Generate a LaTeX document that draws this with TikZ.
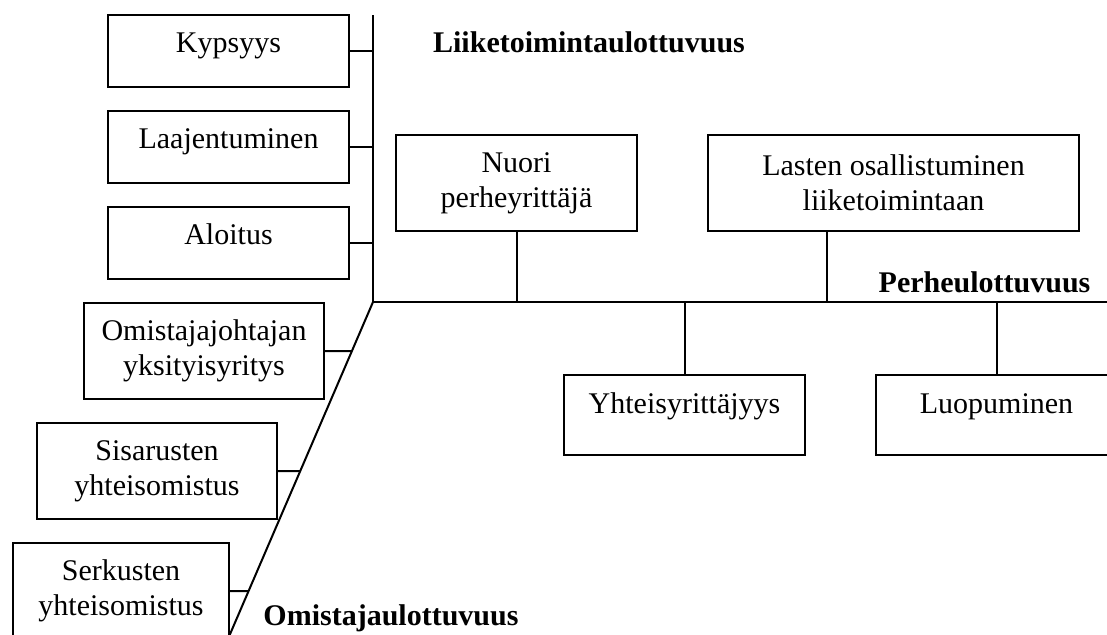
\documentclass[tikz,border=0pt]{standalone}
\usepackage{fontspec}
\setmainfont{Liberation Serif}
\usetikzlibrary{calc}
\begin{document}
\begin{tikzpicture}[x=0.5pt,y=-0.5pt,
  every node/.style={font=\fontsize{15}{17.5}\selectfont},
  ln/.style={line width=1pt},
  box/.style={draw, line width=1pt, inner sep=0pt, align=center,
    minimum width=120.5pt, minimum height=48pt},
  onebox/.style={box, minimum height=36pt, text height=8pt, text depth=7pt},
  lowbox/.style={box, minimum height=40pt, text height=8pt, text depth=10pt},
  lbl/.style={font=\fontsize{15}{17.5}\selectfont\bfseries, inner sep=0pt, anchor=base}
]
\useasboundingbox (0,0) rectangle (1107,634);
\fill[white] (0,0) rectangle (1107,634);
\clip (0,0) rectangle (1107,634);

% spines
\coordinate (top) at (373,15);
\coordinate (o) at (373,302);
\coordinate (rend) at (1115,302);
\coordinate (bot) at (227.5,640);
\draw[ln] (top) -- (o) -- (rend);
\draw[ln] (o) -- (bot);

% business dimension
\node[onebox] (kyp) at (228.5,51) {Kypsyys};
\node[onebox] (laa) at (228.5,147) {Laajentuminen};
\node[onebox] (alo) at (228.5,243) {Aloitus};
\foreach \n in {kyp,laa,alo} \draw[ln] (\n.east) -- (\n.east -| o);

% ownership dimension
\node[box, minimum width=120pt] (omj) at (204,351) {Omistajajohtajan\\yksityisyritys};
\node[box, minimum width=120pt] (sis) at (157,471) {Sisarusten\\yhteisomistus};
\node[box, minimum width=108pt] (ser) at (121,591) {Serkusten\\yhteisomistus};
\foreach \n in {omj,sis,ser}
  \draw[ln] (\n.east) -- (intersection of o--bot and \n.west--\n.east);

% family dimension
\node[box] (nuo) at (516.5,183) {Nuori\\perheyrittäjä};
\node[box, minimum width=185.5pt] (las) at (893.5,183) {Lasten osallistuminen\\liiketoimintaan};
\coordinate (lasc) at ($(las.south west)+(120,0)$);
\draw[ln] (nuo.south) -- (nuo.south |- o);
\draw[ln] (lasc) -- (lasc |- o);
\node[lowbox] (yht) at (684.5,415) {Yhteisyrittäjyys};
\node[lowbox] (luo) at (996.5,415) {Luopuminen};
\draw[ln] (yht.north) -- (yht.north |- o);
\draw[ln] (luo.north) -- (luo.north |- o);

% axis labels
\node[lbl] (liike) at (589,52) {Liiketoimintaulottuvuus};
\node[lbl] (perhe) at (984.5,292) {Perheulottuvuus};
\node[lbl] (omist) at (391,625) {Omistajaulottuvuus};
\end{tikzpicture}
\end{document}
